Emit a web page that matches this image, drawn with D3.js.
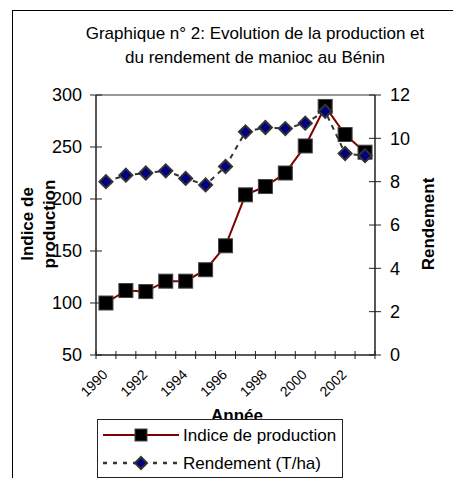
<!DOCTYPE html>
<html><head><meta charset="utf-8">
<script src="https://cdn.jsdelivr.net/npm/d3@7"></script>
<style>body{margin:0;background:#fff}svg{display:block}text{font-family:"Liberation Sans",Arial,sans-serif}</style>
</head><body>
<script>
const years = [1990,1991,1992,1993,1994,1995,1996,1997,1998,1999,2000,2001,2002,2003];
const production = [100,112,111,121,121,132,155,204,212,225,251,289,262,245];
const rendement = [8.0,8.3,8.4,8.5,8.15,7.85,8.7,10.3,10.5,10.45,10.7,11.25,9.3,9.2];
const leftTicks = [50,100,150,200,250,300];
const rightTicks = [0,2,4,6,8,10,12];
const tickYears = [1990,1992,1994,1996,1998,2000,2002];
const titleLines = ["Graphique n° 2: Evolution de la production et","du rendement de manioc au Bénin"];

const W=453,H=478;
const svg=d3.select("body").append("svg").attr("width",W).attr("height",H);
// outer frame
svg.append("rect").attr("x",12.5).attr("y",10.5).attr("width",460).attr("height",480).attr("fill","#fff").attr("stroke","#000").attr("stroke-width",1);

const L=96,R=375,T=95,B=355;
const x=d3.scaleBand().domain(years).range([L,R]);
const yL=d3.scaleLinear().domain([50,300]).range([B,T]);
const yR=d3.scaleLinear().domain([0,12]).range([B,T]);

// title
svg.append("text").attr("x",255).attr("text-anchor","middle").attr("font-size",17).attr("fill","#000")
  .selectAll("tspan").data(titleLines).join("tspan").attr("x",255).attr("y",(d,i)=>39+i*24).text(d=>d);

// plot top border
svg.append("line").attr("x1",L).attr("x2",R).attr("y1",T).attr("y2",T).attr("stroke","#999").attr("stroke-width",2);

const axCol="#222";
// left axis
const gL=svg.append("g");
gL.append("line").attr("x1",L).attr("x2",L).attr("y1",T).attr("y2",B).attr("stroke",axCol).attr("stroke-width",1.5);
gL.selectAll(".t").data(leftTicks).join("line").attr("x1",L-6).attr("x2",L+6).attr("y1",d=>yL(d)).attr("y2",d=>yL(d)).attr("stroke",axCol).attr("stroke-width",1);
gL.selectAll("text").data(leftTicks).join("text").attr("x",L-14).attr("y",d=>yL(d)).attr("dy","0.36em").attr("text-anchor","end").attr("font-size",18).text(d=>d);
// right axis
const gR=svg.append("g");
gR.append("line").attr("x1",R).attr("x2",R).attr("y1",T).attr("y2",B).attr("stroke",axCol).attr("stroke-width",1.5);
gR.selectAll(".t").data(rightTicks).join("line").attr("x1",R-6).attr("x2",R+6).attr("y1",d=>yR(d)).attr("y2",d=>yR(d)).attr("stroke",axCol).attr("stroke-width",1);
gR.selectAll("text").data(rightTicks).join("text").attr("x",R+15).attr("y",d=>yR(d)).attr("dy","0.36em").attr("text-anchor","start").attr("font-size",18).text(d=>d);
// bottom axis
const gB=svg.append("g");
gB.append("line").attr("x1",L).attr("x2",R).attr("y1",B).attr("y2",B).attr("stroke",axCol).attr("stroke-width",1.5);
const tickPos=years.map(d=>x(d)).concat([R]);
gB.selectAll(".t").data(tickPos).join("line").attr("x1",d=>d).attr("x2",d=>d).attr("y1",B-4).attr("y2",B+4).attr("stroke",axCol).attr("stroke-width",1);
gB.selectAll("text").data(tickYears).join("text")
  .attr("transform",d=>`translate(${x(d)+x.bandwidth()/2-1},${B+17}) rotate(-45)`)
  .attr("text-anchor","end").attr("dy","0.35em").attr("font-size",14).text(d=>d);

// axis titles
svg.append("text").attr("transform","rotate(-90)").attr("font-size",17).attr("font-weight","bold").attr("text-anchor","middle")
  .selectAll("tspan").data(["Indice de","production"]).join("tspan").attr("x",-224).attr("y",(d,i)=>33+i*22).text(d=>d);
svg.append("text").attr("transform","rotate(-90)").attr("font-size",17).attr("font-weight","bold").attr("text-anchor","middle")
  .attr("x",-224).attr("y",434).text("Rendement");
svg.append("text").attr("x",237).attr("y",421).attr("text-anchor","middle").attr("font-size",17).attr("font-weight","bold").text("Année");

const cx=d=>x(d)+x.bandwidth()/2;
// rendement line (dashed)
svg.append("path").datum(years.map((d,i)=>[cx(d),yR(rendement[i])]))
  .attr("d",d3.line()).attr("fill","none").attr("stroke","#333").attr("stroke-width",2).attr("stroke-dasharray","5,5");
// production line
svg.append("path").datum(years.map((d,i)=>[cx(d),yL(production[i])]))
  .attr("d",d3.line()).attr("fill","none").attr("stroke","#800000").attr("stroke-width",2);
// production markers
svg.selectAll(".sq").data(years).join("rect").attr("x",(d)=>cx(d)-7).attr("y",(d,i)=>yL(production[i])-7)
  .attr("width",14).attr("height",14).attr("fill","#000").attr("stroke","#444").attr("stroke-width",1);
// rendement markers
const dia=(px,py,r)=>`M${px},${py-r}L${px+r},${py}L${px},${py+r}L${px-r},${py}Z`;
svg.selectAll(".dm").data(years).join("path").attr("d",(d,i)=>dia(cx(d),yR(rendement[i]),6.5))
  .attr("fill","#000080").attr("stroke","#333").attr("stroke-width",2);

// legend
const lg=svg.append("g");
lg.append("rect").attr("x",97.5).attr("y",419.5).attr("width",245).attr("height",58).attr("fill","#fff").attr("stroke","#222").attr("stroke-width",1);
lg.append("line").attr("x1",103).attr("x2",179).attr("y1",435).attr("y2",435).attr("stroke","#800000").attr("stroke-width",2);
lg.append("rect").attr("x",135).attr("y",429).attr("width",12).attr("height",12).attr("fill","#000").attr("stroke","#444");
lg.append("text").attr("x",183).attr("y",435).attr("dy","0.36em").attr("font-size",17).text("Indice de production");
lg.append("line").attr("x1",103).attr("x2",179).attr("y1",463).attr("y2",463).attr("stroke","#333").attr("stroke-width",2.5).attr("stroke-dasharray","4,6");
lg.append("path").attr("d",dia(141,463,6)).attr("fill","#000080").attr("stroke","#333").attr("stroke-width",2);
lg.append("text").attr("x",183).attr("y",463).attr("dy","0.36em").attr("font-size",17).text("Rendement (T/ha)");
</script>
</body></html>
